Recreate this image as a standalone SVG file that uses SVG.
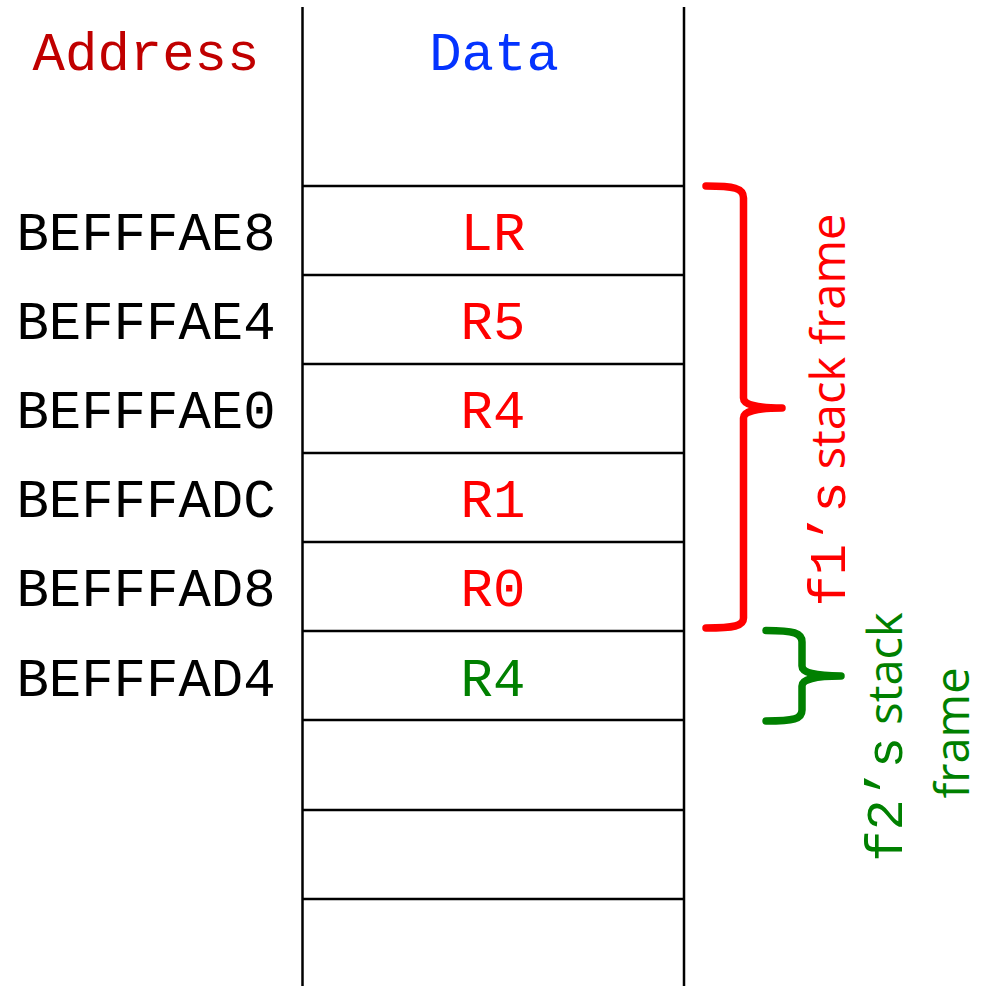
<svg xmlns="http://www.w3.org/2000/svg" width="989" height="986" viewBox="0 0 989 986">
  <style>
    .mono { font-family: "Liberation Mono", "Courier New", monospace; font-size: 54px; text-anchor: middle; }
    .addr { fill: #000000; }
    .cell { stroke: #000000; stroke-width: 2.5; fill: none; }
    .brace { fill: none; stroke-width: 7.5; stroke-linecap: round; stroke-linejoin: round; }
    .lbl { font-family: "Open Sans", "Liberation Sans", sans-serif; font-size: 47px; text-anchor: middle; }
    .lblmono { font-family: "Liberation Mono", "Courier New", monospace; font-size: 52px; }
  </style>
  <rect width="989" height="986" fill="#ffffff"/>

  <!-- column headers -->
  <g id="headers">
    <text class="mono" x="146" y="70" fill="#c00000">Address</text>
    <text class="mono" x="494" y="70" fill="#0433ff">Data</text>
  </g>

  <!-- stack column: walls and slot separators -->
  <g id="stack-grid" class="cell">
    <line x1="302.5" y1="7" x2="302.5" y2="986"/>
    <line x1="684" y1="7" x2="684" y2="986"/>
    <line x1="302" y1="186" x2="684" y2="186"/>
    <line x1="302" y1="275" x2="684" y2="275"/>
    <line x1="302" y1="364" x2="684" y2="364"/>
    <line x1="302" y1="453" x2="684" y2="453"/>
    <line x1="302" y1="542" x2="684" y2="542"/>
    <line x1="302" y1="631" x2="684" y2="631"/>
    <line x1="302" y1="720" x2="684" y2="720"/>
    <line x1="302" y1="810" x2="684" y2="810"/>
    <line x1="302" y1="899" x2="684" y2="899"/>
  </g>

  <!-- stack slots -->
  <g id="slot-BEFFFAE8">
    <text class="mono addr" x="146" y="250">BEFFFAE8</text>
    <text class="mono" x="493" y="250" fill="#ff0000">LR</text>
  </g>
  <g id="slot-BEFFFAE4">
    <text class="mono addr" x="146" y="339">BEFFFAE4</text>
    <text class="mono" x="493" y="339" fill="#ff0000">R5</text>
  </g>
  <g id="slot-BEFFFAE0">
    <text class="mono addr" x="146" y="428">BEFFFAE0</text>
    <text class="mono" x="493" y="428" fill="#ff0000">R4</text>
  </g>
  <g id="slot-BEFFFADC">
    <text class="mono addr" x="146" y="517">BEFFFADC</text>
    <text class="mono" x="493" y="517" fill="#ff0000">R1</text>
  </g>
  <g id="slot-BEFFFAD8">
    <text class="mono addr" x="146" y="606">BEFFFAD8</text>
    <text class="mono" x="493" y="606" fill="#ff0000">R0</text>
  </g>
  <g id="slot-BEFFFAD4">
    <text class="mono addr" x="146" y="696">BEFFFAD4</text>
    <text class="mono" x="493" y="696" fill="#008000">R4</text>
  </g>

  <!-- frame braces -->
  <g id="braces">
    <path class="brace" stroke="#ff0000" d="M706,186 C734,186 743.5,188 743.5,198 L743.5,398 Q743.5,408 782,408 Q743.5,408 743.5,418 L743.5,618 C743.5,626 734,628 706,628"/>
    <path class="brace" stroke="#008000" d="M766,630.5 C794,630.5 802,633 802,642 L802,666 Q802,676 841,676 Q802,676 802,686 L802,710 C802,719 794,721 766,721"/>
  </g>

  <!-- frame labels -->
  <g id="f1-frame-label" fill="#ff0000">
    <text class="lbl" transform="translate(845,410) rotate(-90)"><tspan class="lblmono">f1’s</tspan> stack frame</text>
  </g>
  <g id="f2-frame-label" fill="#008000">
    <text class="lbl" transform="translate(902,737) rotate(-90)"><tspan class="lblmono">f2’s</tspan> stack</text>
    <text class="lbl" transform="translate(969,733) rotate(-90)">frame</text>
  </g>
</svg>
